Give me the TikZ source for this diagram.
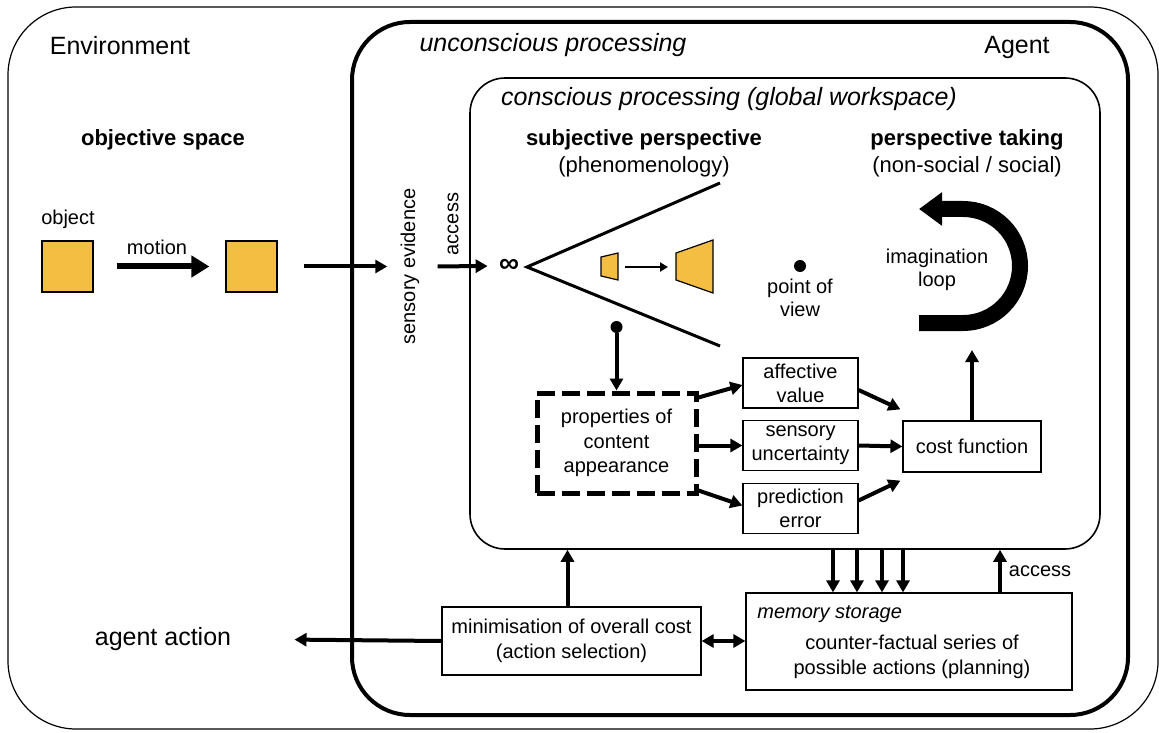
\documentclass[tikz,border=0pt]{standalone}
\usepackage{fontspec}
\setmainfont{Liberation Sans}
\usetikzlibrary{arrows.meta}
\definecolor{objorange}{RGB}{244,190,66}
\begin{document}
\begin{tikzpicture}[x=0.5pt,y=-0.5pt,
  box/.style={draw,line width=0.6pt,inner sep=0pt,align=center,font=\fontsize{10}{12}\selectfont},
  txt/.style={inner sep=0pt,align=center,font=\fontsize{10}{11.5}\selectfont},
  headtxt/.style={inner sep=0pt,font=\fontsize{12.5}{15}\selectfont},
  titletxt/.style={inner sep=0pt,font=\fontsize{11}{13}\selectfont},
  arr/.style={line width=2pt,-{Triangle[length=6pt,width=6.5pt]}},
  thinarr/.style={line width=1pt,-{Triangle[length=4pt,width=4.5pt]}}]
   \useasboundingbox (0,0) rectangle (1159,732);
   % containers
   \node[draw,line width=0.6pt,rounded corners=34pt,minimum width=575pt,minimum height=361pt] (env) at (583,368) {};
   \node[draw,line width=2pt,rounded corners=29pt,minimum width=388pt,minimum height=346.5pt] (agent) at (740,368.5) {};
   \node[draw,line width=0.8pt,rounded corners=17.5pt,minimum width=315pt,minimum height=235.5pt] (conscious) at (785,313.5) {};
   \node[headtxt] (envlabel) at (120,46) {Environment};
   \node[headtxt] (unclabel) at (553,45) {\itshape unconscious processing};
   \node[headtxt] (agentlabel) at (1017,47) {Agent};
   \node[headtxt] (conlabel) at (729,99) {\itshape conscious processing (global workspace)};
   \node[titletxt] (objspace) at (163,140) {\bfseries objective space};
   \node[titletxt] (subjpersp) at (644,140) {\bfseries subjective perspective};
   \node[titletxt] (phenom) at (644,167) {(phenomenology)};
   \node[titletxt] (perstak) at (967,140) {\bfseries perspective taking};
   \node[titletxt] (social) at (967,167) {(non-social / social)};
   % objective space
   \node[draw,fill=objorange,line width=0.6pt,minimum size=25.5pt,inner sep=0pt] (obj1) at (67.5,266.5) {};
   \node[draw,fill=objorange,line width=0.6pt,minimum size=25.5pt,inner sep=0pt] (obj2) at (251.5,266.5) {};
   \node[txt] (objlabel) at (68,219) {object};
   \node[txt] (motionlabel) at (157,247) {motion};
   \draw[line width=3pt,-{Triangle[length=9pt,width=10.5pt]}] ([xshift=11.5pt]obj1.east) -- ([xshift=-8pt]obj2.west);
   % sensory input
   \node[txt,rotate=90] (sensev) at (410,266.5) {sensory evidence};
   \node[txt,rotate=90] (access) at (453,224) {access};
   \node[inner sep=0pt,font=\fontsize{14}{14}\selectfont\bfseries] (inf) at (509,266) {∞};
   \draw[arr,shorten >=6.5pt] ([xshift=13pt]obj2.east) -- (sensev.north);
   \draw[arr,shorten <=9pt,shorten >=5.5pt] (sensev.south) -- (inf.west);
   % perspective cone
   \coordinate (apex) at (527,267);
   \coordinate (coneup) at (720,183);
   \coordinate (conelow) at (720,346);
   \draw[line width=1.5pt] (coneup) -- (apex) -- (conelow);
   \filldraw[fill=objorange,line width=0.6pt] (601,257) -- (618,253) -- (618,280) -- (601,276) -- cycle;
   \filldraw[fill=objorange,line width=0.6pt] (676,253) -- (713,240) -- (713,293) -- (676,280) -- cycle;
   \coordinate (trapA) at (625,267);
   \coordinate (trapB) at (668,267);
   \draw[thinarr] (trapA) -- (trapB);
   \node[circle,fill,inner sep=0pt,minimum size=6pt] (pov) at (800,266) {};
   \node[txt] (povlabel) at (800,298) {point of\\view};
   \node[circle,fill,inner sep=0pt,minimum size=6pt] (cdot) at (616.5,327) {};
   % content appearance
   \node[box,line width=2.5pt,dash pattern=on 9pt off 3.5pt,minimum width=79.5pt,minimum height=50pt,font=\fontsize{10}{12.2}\selectfont] (props) at (616.5,443) {properties of\\content\\appearance};
   \node[box,minimum width=57.5pt,minimum height=25pt] (affect) at (800.5,383) {affective\\value};
   \node[box,minimum width=57.5pt,minimum height=25pt] (sensunc) at (800.5,445.5) {sensory\\uncertainty};
   \node[box,minimum width=57.5pt,minimum height=25pt] (prederr) at (800.5,508.5) {prediction\\error};
   \node[box,minimum width=69pt,minimum height=25.5pt] (cost) at (972,446.5) {cost function};
   \draw[arr] (cdot) -- (props.north);
   \draw[arr] ([yshift=-3.5pt]props.north east) -- ([yshift=-1pt]affect.west);
   \draw[arr] (props.east |- sensunc.west) -- (sensunc.west);
   \draw[arr] ([yshift=2.5pt]props.south east) -- ([yshift=1.5pt]prederr.west);
   \draw[arr] ([yshift=-3.5pt]affect.east) -- ([xshift=-1pt,yshift=5.5pt]cost.north west);
   \draw[arr] (sensunc.east) -- (cost.west);
   \draw[arr] ([yshift=4pt]prederr.east) -- ([xshift=-1pt,yshift=-4pt]cost.south west);
   % imagination loop
   \coordinate (loopin) at (972,350);
   \draw[arr] (cost.north) -- (loopin);
   \draw[line width=8pt,-{Triangle[length=11.5pt,width=16pt]}] (919,323) -- (963,323)
      .. controls (994.5,323) and (1020,297.5) .. (1020,266)
      .. controls (1020,234.5) and (994.5,209) .. (963,209) -- (919,209);
   \node[txt] (imagloop) at (937,270) {imagination\\loop};
   % action selection and memory
   \node[box,minimum width=129.5pt,minimum height=34pt,font=\fontsize{10}{12.5}\selectfont] (minim) at (571.5,641) {minimisation of overall cost\\(action selection)};
   \node[box,minimum width=163pt,minimum height=48.5pt] (memory) at (909,641.5) {};
   \node[txt,anchor=west] (memtitle) at (757,614) {\itshape memory storage};
   \node[txt,font=\fontsize{10}{12.5}\selectfont] (memtext) at (912,657) {counter-factual series of\\possible actions (planning)};
   \node[headtxt] (action) at (163,639) {agent action};
   \node[txt] (acclabel) at (1040,571) {access};
   \draw[arr] ([xshift=-2pt]minim.north) -- ([xshift=-2pt]minim.north |- conscious.south);
   \draw[arr,shorten >=31.5pt] (minim.west) -- (action.east);
   \draw[line width=2pt,{Triangle[length=6pt,width=6.5pt]}-{Triangle[length=6pt,width=6.5pt]}] (minim.east) -- (minim.east -| memory.west);
   \foreach \xx in {833,857,882,903}
      \draw[arr] (\xx,549 |- conscious.south) -- (\xx,593 |- memory.north);
   \draw[arr] (1000,593 |- memory.north) -- (1000,549 |- conscious.south);
\end{tikzpicture}
\end{document}
